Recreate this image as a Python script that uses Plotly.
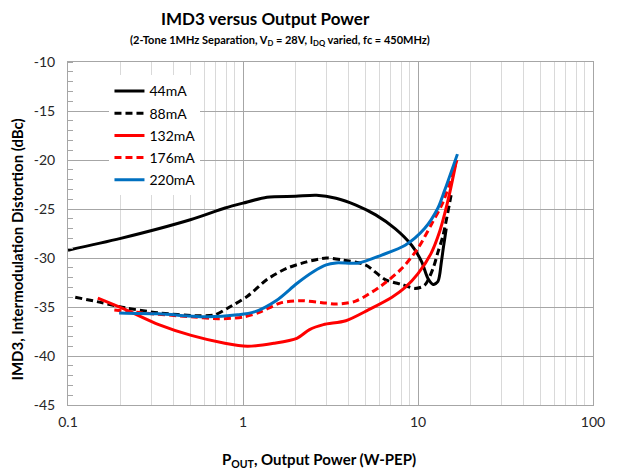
import plotly.graph_objects as go

# 44mA
p44 = [0.1, 0.2, 0.5, 0.79, 1.0, 1.37, 2.0, 2.63, 3.4, 4.42, 5.73, 7.4, 9.2, 10.5, 11.4, 12.2, 13.0, 13.6, 14.0, 14.5]
d44 = [-29.2, -28.0, -26.1, -24.9, -24.4, -23.8, -23.7, -23.6, -23.9, -24.6, -25.6, -27.0, -28.7, -30.4, -32.1, -32.7, -32.4, -30.4, -28.8, -27.0]

# 88mA
p88 = [0.11, 0.151, 0.215, 0.33, 0.555, 0.69, 0.82, 1.06, 1.37, 1.78, 2.31, 2.99, 3.7, 5.0, 6.5, 8.1, 9.6, 10.9, 12.2, 13.0, 13.9, 15.6]
d88 = [-34.0, -34.5, -35.1, -35.6, -35.9, -35.8, -35.1, -33.9, -32.2, -31.05, -30.4, -30.0, -30.2, -30.7, -32.2, -32.7, -33.1, -32.8, -31.05, -29.4, -27.7, -23.2]

# 132mA
p132 = [0.148, 0.215, 0.33, 0.506, 0.787, 1.06, 1.5, 2.03, 2.4, 2.88, 3.87, 5.2, 7.1, 8.45, 10.0, 11.9, 13.3, 14.2, 15.2, 16.4]
d132 = [-34.1, -35.3, -36.8, -37.9, -38.7, -39.0, -38.7, -38.2, -37.3, -36.8, -36.4, -35.3, -34.0, -33.0, -31.6, -29.5, -27.3, -25.5, -23.3, -20.5]

# 176mA
p176 = [0.184, 0.264, 0.506, 0.72, 1.02, 1.26, 1.63, 2.12, 2.99, 3.4, 4.4, 6.2, 8.1, 10.0, 11.9, 13.9, 16.7]
d176 = [-35.3, -35.6, -36.0, -36.2, -36.0, -35.5, -34.6, -34.35, -34.6, -34.7, -34.4, -32.8, -31.05, -29.0, -26.6, -24.3, -20.0]

# 220mA
p220 = [0.196, 0.33, 0.63, 0.93, 1.16, 1.56, 2.03, 2.52, 2.99, 3.4, 4.6, 6.2, 8.45, 10.9, 13.0, 14.2, 16.8]
d220 = [-35.6, -35.7, -36.0, -35.8, -35.5, -34.3, -32.6, -31.4, -30.7, -30.5, -30.5, -29.7, -28.7, -27.0, -24.9, -23.1, -19.4]

x_ticks = [0.1, 1, 10, 100]
x_labels = ["0.1", "1", "10", "100"]
x_minor = [m * d for d in (0.1, 1, 10) for m in range(2, 10)]
y_ticks = [-45, -40, -35, -30, -25, -20, -15, -10]
y_labels = ["-45", "-40", "-35", "-30", "-25", "-20", "-15", "-10"]

FONT = "Lato"

series = [
    ("44mA", p44, d44, "#000000", "solid"),
    ("88mA", p88, d88, "#000000", "7px,4px"),
    ("132mA", p132, d132, "#ff0000", "solid"),
    ("176mA", p176, d176, "#ff0000", "7px,4px"),
    ("220mA", p220, d220, "#0070c0", "solid"),
]

fig = go.Figure()
for name, xs, ys, col, dash in series:
    fig.add_trace(go.Scatter(
        x=xs, y=ys, name=name, mode="lines", legendgroup=name,
        line=dict(color=col, width=3, dash=dash, shape="spline", smoothing=0.8),
    ))


def note(text, x, y, size, angle=0):
    return dict(text=text, x=x, y=y, xref="paper", yref="paper", xanchor="center", yanchor="middle",
                textangle=angle, showarrow=False, font=dict(family=FONT, size=size, color="#000000"))


# page body has an 8px margin, so the figure is sized/offset to compensate
fig.update_layout(
    width=609, height=466,
    margin=dict(l=60, r=17, t=54, b=69),
    plot_bgcolor="#FFFFFF", paper_bgcolor="#FFFFFF",
    font=dict(family=FONT, size=13, color="#262626"),
    showlegend=True,
    legend=dict(x=0.079, y=0.961, xanchor="left", yanchor="top",
                bgcolor="#FFFFFF", font=dict(family=FONT, size=14, color="#000000"),
                tracegroupgap=1),
    xaxis=dict(
        type="log", range=[-1, 2],
        tickvals=x_ticks, ticktext=x_labels, ticklabelstandoff=4,
        showgrid=True, gridcolor="#a6a6a6", gridwidth=1,
        minor=dict(tickvals=x_minor, showgrid=True, gridcolor="#d9d9d9", gridwidth=1, ticks=""),
        showline=True, linecolor="#a6a6a6", linewidth=1, mirror=True,
        ticks="", tickfont=dict(size=14, color="#262626"), zeroline=False,
    ),
    yaxis=dict(
        range=[-45, -10], tickvals=y_ticks, ticktext=y_labels, ticklabelstandoff=9,
        showgrid=True, gridcolor="#a6a6a6", gridwidth=1,
        minor=dict(dtick=1, tick0=-45, ticks="inside", ticklen=5, tickcolor="#a6a6a6", showgrid=False),
        showline=True, linecolor="#a6a6a6", linewidth=1, mirror=True,
        ticks="", tickfont=dict(size=14, color="#262626"), zeroline=False,
    ),
    annotations=[
        note("<b>IMD3 versus Output Power</b>", 0.376, 1.128, 17),
        note("<b>(2-Tone 1MHz Separation, V<sub>D</sub> = 28V, I<sub>DQ</sub> varied, fc = 450MHz)</b>",
             0.404, 1.063, 11),
        note("<b>IMD3, Intermodulation Distortion (dBc)</b>", -0.098, 0.452, 15, -90),
        note("<b>P<sub>OUT</sub>, Output Power (W-PEP)</b>", 0.479, -0.160, 15),
    ],
)

fig.write_html("out.html")
